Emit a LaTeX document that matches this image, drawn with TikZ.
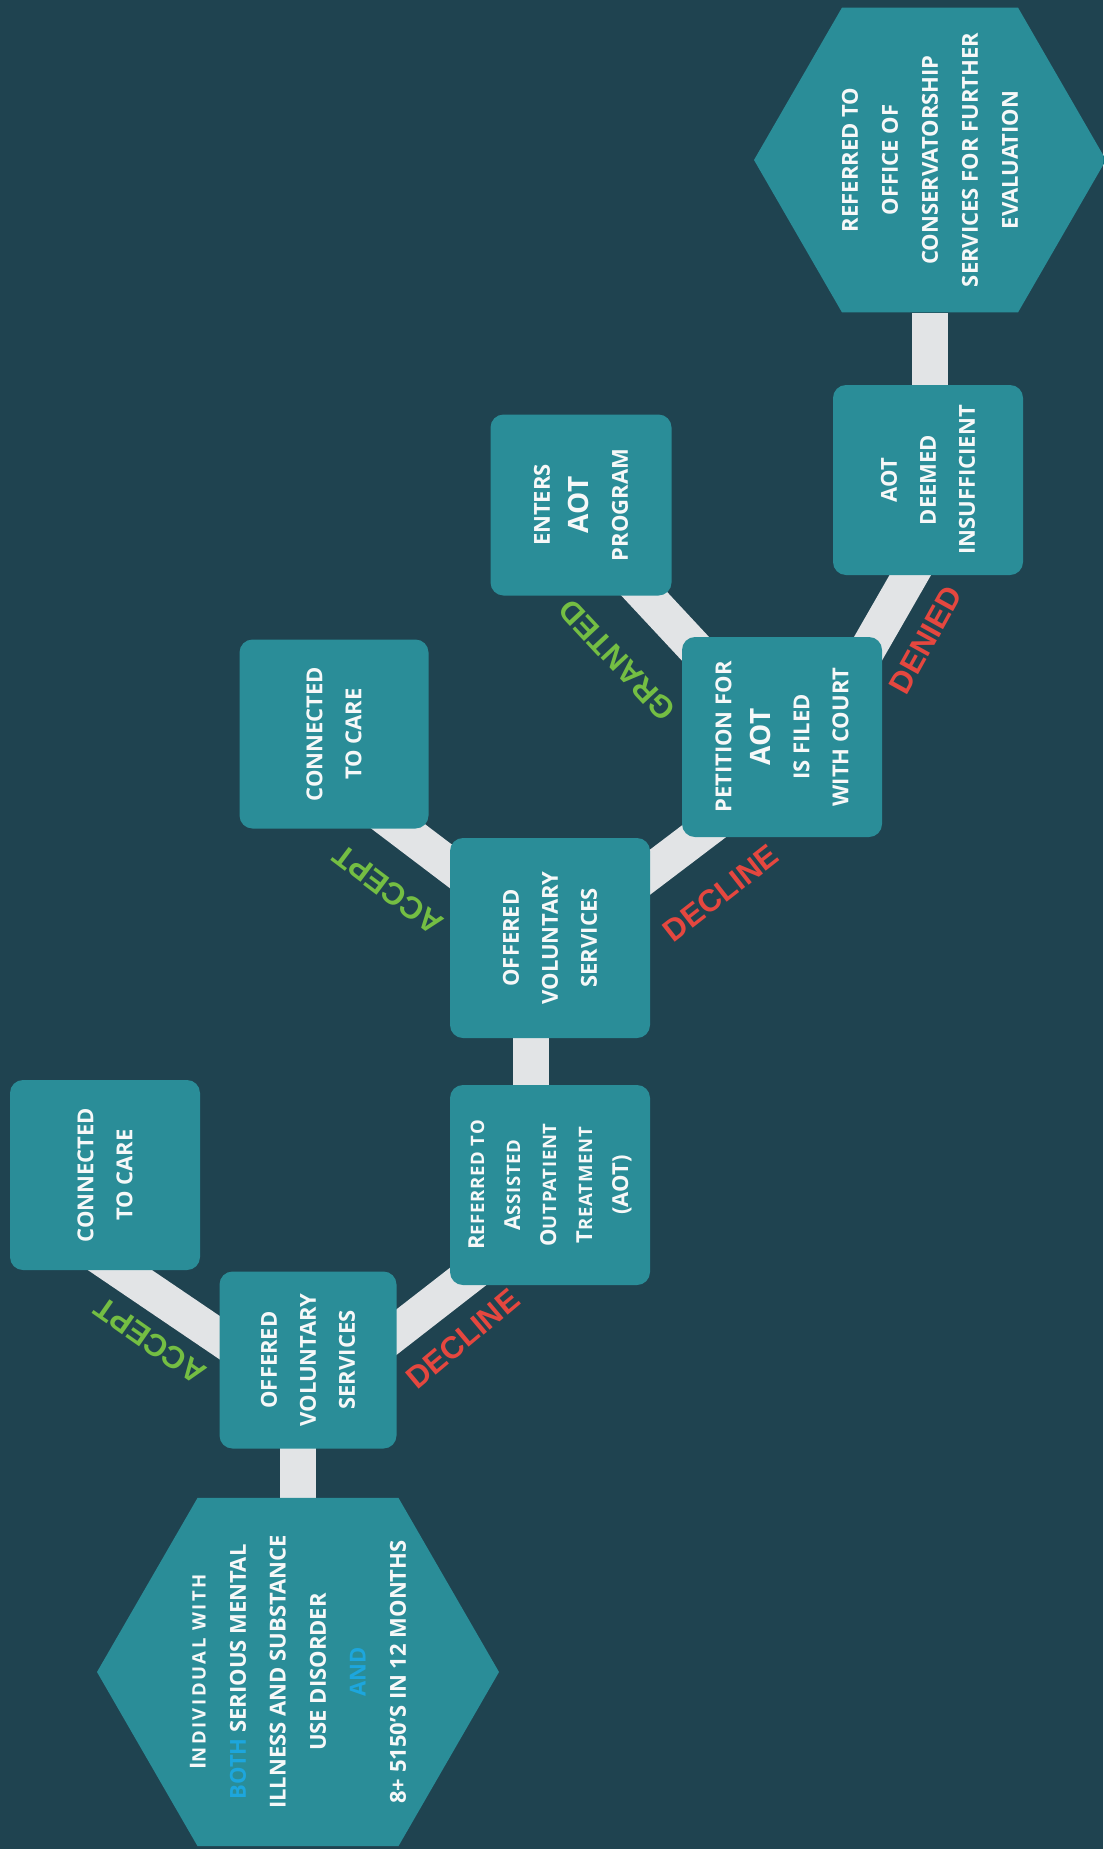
\documentclass[tikz,border=0pt]{standalone}
\usepackage{fontspec}
\setmainfont{Open Sans}
\newfontfamily\labelfont{Liberation Sans}
\usetikzlibrary{calc,shapes.geometric}
\definecolor{bgteal}{HTML}{1F4350}
\definecolor{boxteal}{HTML}{2A8D98}
\definecolor{barwhite}{HTML}{E2E4E6}
\definecolor{okgreen}{HTML}{74BE43}
\definecolor{nored}{HTML}{E5473F}
\definecolor{bothblue}{HTML}{1DA6DD}
\definecolor{txtwhite}{HTML}{F6F8F8}
\pgfdeclarelayer{back}
\pgfdeclarelayer{bars}
\pgfsetlayers{back,bars,main}
\newcommand{\smc}[3][0]{#2{\fontsize{18.5}{38}\selectfont\bfseries\addfontfeature{LetterSpace=#1}#3}}
\newcommand{\bigaot}{{\fontsize{28}{39}\selectfont AOT}}

\begin{document}
\begin{tikzpicture}[x=1pt, y=-1pt,
  box/.style={rectangle, rounded corners=13pt, fill=boxteal, minimum size=#1,
              inner sep=0pt, align=center, text=txtwhite, rotate=90,
              font={\fontsize{22}{39}\selectfont\bfseries}},
  box/.default=190pt,
  hexa/.style={regular polygon, regular polygon sides=6, fill=boxteal,
               minimum size=#1, inner sep=0pt},
  hextxt/.style={rotate=90, align=center, text=txtwhite, inner sep=0pt,
                 font={\fontsize{22}{40}\selectfont\bfseries}},
  bar/.style={line width=36pt, barwhite},
  choice/.style={inner sep=0pt, font={\labelfont\fontsize{31}{31}\selectfont\bfseries}},
  yeslbl/.style={choice, text=okgreen},
  nolbl/.style={choice, text=nored},
]
\useasboundingbox (0,0) rectangle (1103,1849);
\begin{pgfonlayer}{back}
  \fill[bgteal] (0,0) rectangle (1103,1849);
\end{pgfonlayer}

\node[hexa=402pt, label={[hextxt]center:{\smc[14]{I}{NDIVIDUAL WITH}\\
  {\color{bothblue}BOTH} SERIOUS MENTAL\\ ILLNESS AND SUBSTANCE\\ USE DISORDER\\
  {\color{bothblue}AND}\\ 8+ 5150'S IN 12 MONTHS}}] (hex1) at (298,1672) {};
\node[box=177pt] (ovs1) at (308,1360) {OFFERED\\VOLUNTARY\\SERVICES};
\node[box=190pt] (ctc1) at (105,1175) {CONNECTED\\TO CARE};
\node[box=200pt, font={\fontsize{22}{36}\selectfont\bfseries}] (raot) at (550,1185)
  {\smc[4]{R}{EFERRED TO}\\\smc[4]{A}{SSISTED}\\\smc[4]{O}{UTPATIENT}\\\smc[4]{T}{REATMENT}\\(AOT)};
\node[box=200pt] (ovs2) at (550,938) {OFFERED\\VOLUNTARY\\SERVICES};
\node[box=189pt] (ctc2) at (334,734) {CONNECTED\\TO CARE};
\node[box=200pt] (pet) at (782,737) {PETITION FOR\\\bigaot\\IS FILED\\WITH COURT};
\node[box=181pt] (ent) at (581,505) {ENTERS\\\bigaot\\PROGRAM};
\node[box=190pt] (adi) at (928,480) {AOT\\DEEMED\\INSUFFICIENT};
\node[hexa=352pt, label={[hextxt]center:{REFERRED TO\\OFFICE OF\\
  CONSERVATORSHIP\\SERVICES FOR FURTHER\\EVALUATION}}] (hex2) at (930,160) {};

\begin{pgfonlayer}{bars}
  \draw[bar] (hex1 |- ovs1) -- (hex1);
  \draw[bar] ($(ctc1)+(-25,68)$) -- ($(ovs1)+(-48,5)$);
  \draw[bar] ($(ovs1)+(50,2)$) -- ($(raot)+(-62,76)$);
  \draw[bar] ($(ovs2)+(-19,0)$) -- ($(raot)+(-19,0)$);
  \draw[bar] ($(ctc2)+(28,65)$) -- ($(ovs2)+(-60,-42)$);
  \draw[bar] ($(ovs2)+(62,-37)$) -- ($(pet)+(-50,73)$);
  \draw[bar] ($(ent)+(28,51)$) -- ($(pet)+(-64,-64)$);
  \draw[bar] ($(pet)+(56,-36)$) -- ($(adi)+(11,45)$);
  \draw[bar] (hex2 |- adi) -- (hex2);
\end{pgfonlayer}

\node[yeslbl, rotate=145] (acc1) at (150,1341) {ACCEPT};
\node[nolbl, rotate=40] (dec1) at (463,1339) {DECLINE};
\node[yeslbl, rotate=143] (acc2) at (388,890) {ACCEPT};
\node[nolbl, rotate=38] (dec2) at (721,893) {DECLINE};
\node[yeslbl, rotate=133] (gra) at (617,660) {GRANTED};
\node[nolbl, rotate=61] (den) at (926,640) {DENIED};
\end{tikzpicture}
\end{document}
